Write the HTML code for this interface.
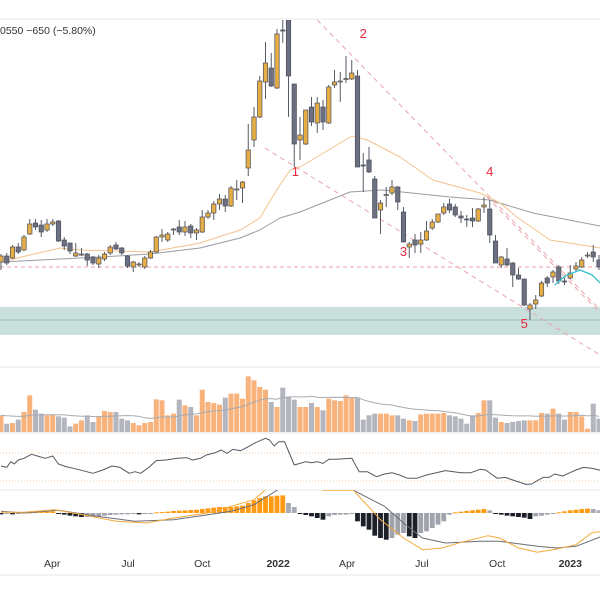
<!DOCTYPE html>
<html><head><meta charset="utf-8">
<style>
html,body{margin:0;padding:0;background:#fff;}
#wrap{position:relative;width:600px;height:600px;overflow:hidden;font-family:"Liberation Sans",sans-serif;}
svg{position:absolute;left:0;top:0;}
</style></head>
<body>
<div id="wrap">
<svg id="chart" width="600" height="600"></svg>
</div>
<script>
// ---- data ----
const opens  = [68,74,72,83,80,96,107,105,100,106,109,90,87,74,75,76,73,66,71,77,85,82,74,63,65,63,72,78,93,90,100,103,98,104,97,98,113,117,126,131,124,140,142,162,190,213,248,262,242,300,310,246,190,186,223,207,223,207,245,248,251,251,254,165,170,151,120,135,137,143,118,83,90,86,90,102,108,117,126,123,114,111,112,109,123,121,89,65,71,67,55,51,21,26,34,52,53,63,49,52,61,63,74.5,78,70];
const highs  = [76,77,85,87,95,111,111,110,111,111,110,93,87,87,82,77,74,75,78,85,88,83,75,69,68,74,80,94,101,98,102,110,109,106,102,120,120,129,136,135,144,150,149,206,223,254,288,277,301,310,315,246,213,220,233,233,230,245,260,258,274,270,260,177,183,154,130,143,150,144,123,88,96,98,109,111,116,127,131,126,119,115,122,122,133,130,95,74,82,68,62,51,27,35,49,54,60,65,52,65,68,73,78,85,75];
const lows   = [60,65,71,76,79,95,100,93,98,104,88,80,76,73,74,64,65,62,69,75,80,75,62,58,63,61,71,77,88,88,95,95,94,92,90,97,111,110,120,118,123,130,127,154,183,212,231,243,241,287,213,163,170,185,204,197,200,206,242,228,247,250,163,138,157,112,96,123,135,120,88,72,77,77,89,100,107,115,117,113,107,103,103,108,117,87,67,62,64,43,50,24,10,21,33,43,47,46,45,51,58,62,72,68,60];
const closes = [74,67,83,78,93,106,103,98,106,108,89,84,79,77,76,70,67,72,76,83,81,77,64,68,66,72,78,93,95,96,101,98,103,97,100,113,117,126,131,124,142,141,148,180,213,249,267,244,296,299.5,254,186,195,220,208,227,208,243,248,249,251.5,257,163,164.5,158,112,127,135.5,143,128,88,86,85,90,99,108,116,123,120,115,112,110.5,109,121,125,95,67,73,65,55,51,25,25,30,47,47,58,49,48.5,57,64,70,75,73,63];
const volumes = [50,25,27,37,60,110,67,55,50,52,47,43,17,25,35,50,30,47,63,60,60,40,35,27,20,27,30,98,95,50,55,97,80,75,50,127,90,87,82,103,115,115,100,167,155,135,127,90,75,133,105,97,75,75,87,75,65,100,95,93,110,103,103,37,50,55,55,55,50,50,40,35,33,53,55,55,55,57,50,47,40,25,50,57,95,95,43,30,27,30,33,35,35,35,57,55,70,55,37,60,60,47,10,85,40];
const histValues = [-4,-3,-4,-3,2,2,3,3,4,5,-3,-5,-8,-10,-12,-12,-12,-10,-8,-6,-5,-4,-4,-3,-4,-2,-1,2,3,4,6,7,8,9,10,12,14,16,18,18,18,20,22,30,38,45,50,50,52,53,30,18,-3,-6,-10,-15,-20,-10,-6,-5,-5,-3,-25,-40,-50,-68,-75,-80,-75,-65,-60,-70,-75,-60,-55,-45,-35,-25,-5,2,4,6,8,10,12,8,-3,-5,-8,-10,-12,-14,-18,-10,-8,-5,-3,2,5,8,10,12,13,12,8];
const maFastWeeks = [0,5,10.3,13.7,26,34.6,41.6,45,48.5,50.3,52,61,63.7,69.4,75.1,83.3,86.8,89.7,95.5,104.2];
const maFastValues = [68,75,82,80,78,87,100,112,145,160,163,194,190,173,150,137,127,113,90,82];
const maSlowWeeks = [0,17.2,25.9,34.6,41.6,45,48.5,52,60.7,66.4,78.1,85,92.5,104.2];
const maSlowValues = [68,73,76,82,92,100,112,118,138,140,133,130,117,104];
const rsiWeeks = [0,1,1.7,2.3,3,4,5.3,6.7,7.7,9,10,11.3,13.3,16,17.7,19.3,20.7,22.3,23.3,24.3,25.7,27,28.7,30.7,32.3,33.3,34.7,35.7,37.3,38.3,39.3,40.3,41.7,43,44.3,46,46.7,47.5,48.3,49.3,51,52,53,54,55,56,57,58.3,61,62.3,63.7,65.3,66.7,68,69.3,70.7,72.3,74,77.3,80,81.7,83.3,84.3,86.3,87.7,89,91.3,92.3,93.3,94.3,95.3,96.3,97.7,98.7,100,101.3,102.7,104.5];
const rsiValues = [51.4,49.5,57.6,54.3,60,62.4,68.1,64.8,62.4,65.7,54.3,50.5,46.7,41,45.7,51.4,49.5,41,43.3,41,49.5,59.1,60,62.4,63.3,60,62.4,67.1,70.5,74.3,69.5,75.2,73.3,79,84.8,91,88.6,80,86.2,86.2,52.9,55.2,57.6,56.2,57.6,55.2,61,61,62.4,43.3,43.3,36.2,40,41.9,38.6,33.8,33.8,38.6,44.8,41.9,41.9,46.7,45.7,33.8,35.2,31.4,25.2,25.7,30.5,35.2,35.2,40,37.1,41,45.7,49.5,48.1,44.8];
const macdWeeks = [0,4,10,16.7,23.3,30,36,40,44,48,50.7,58.7,61.3,66.7,70,73.3,77.3,83.3,86.7,93.3,96.7,100,104.5];
const macdValues = [5,0,8,-10,-25,-20,-5,5,25,68,110,110,68,20,-30,-75,-90,-85,-85,-100,-105,-100,-70];
const signalWeeks = [0,4,9.3,13.3,20,25.3,30,36,40,44,46,48,52,56,61.3,63.3,66,70,73.3,76.7,80,84.7,86.7,90,93.3,96.7,100,102.7,104.5];
const signalValues = [2,2,10,-2,-25,-30,-15,0,20,40,70,110,150,68,68,30,-20,-75,-110,-105,-88,-68,-75,-105,-118,-108,-95,-60,-55];
const arcWeeks = [96.3,98.1,100.7,102.8,104.2];
const arcPrices = [45,54,60,55,47];
const monthLabels = ["Apr","Jul","Oct","2022","Apr","Jul","Oct","2023"];
const monthWeeks = [8.9,22.1,35,48.2,60.2,73.2,86.3,99];
const waveLabels = ["1","2","3","4","5"];
const waveWeeks = [51.2,63,70,85,91];
const wavePrices = [154,292,74,154,2];

// ---- scales ----
const xC = i => 1 + i*5.75;
const yP = p => 330 - p;
const yV = v => 432 - v/3;
const yR = r => 467 - (r-50)*0.7;
const yM = m => 513 - m/3;

const svg = document.getElementById('chart');
const NS = 'http://www.w3.org/2000/svg';
function mk(tag, attrs, parent){
  const e = document.createElementNS(NS, tag);
  for (const k in attrs) e.setAttribute(k, attrs[k]);
  (parent||svg).appendChild(e);
  return e;
}
const defs = mk('defs',{});
const cp = mk('clipPath',{id:'macdclip'},defs);
mk('rect',{x:0,y:490,width:600,height:85},cp);
const cp2 = mk('clipPath',{id:'priceclip'},defs);
mk('rect',{x:0,y:20,width:600,height:345},cp2);

[19,367,433,490,575].forEach(y=>{
  const l = mk('line',{x1:0,x2:600,y1:y,y2:y,stroke:'#e6e7ea','stroke-width':1});
  
  
});

const zone = mk('rect',{x:0,y:yP(23),width:600,height:yP(-5)-yP(23),fill:'#c9dfdb'});


const zl = mk('line',{x1:0,x2:600,y1:yP(10),y2:yP(10),stroke:'#9fbfba','stroke-width':1});



const hl = mk('line',{x1:0,x2:600,y1:yP(63),y2:yP(63),stroke:'#e8a0a8','stroke-width':1,'stroke-dasharray':'4,3'});



const trendLines = [[55,310,104.2,20],[45.9,182,104.2,-25],[84.5,133,104.2,17]];
const gPrice = mk('g',{'clip-path':'url(#priceclip)'});
trendLines.forEach(t=>{
  const l = mk('line',{x1:xC(t[0]),y1:yP(t[1]),x2:xC(t[2]),y2:yP(t[3]),stroke:'#eba3ac','stroke-width':1,'stroke-dasharray':'5,4'},gPrice);
  
  
});

function sma(arr,n){
  return arr.map((_,i)=>{let s=0;for(let k=i-n+1;k<=i;k++){s+=arr[Math.max(0,k)];}return s/n;});
}
function poly(xs,ys,stroke,w,parent,name){
  const d = xs.map((x,i)=>(i?'L':'M')+x.toFixed(1)+','+ys[i].toFixed(1)).join('');
  const p = mk('path',{d:d,fill:'none',stroke:stroke,'stroke-width':w,'stroke-linejoin':'round'},parent);
  
  
  return p;
}
const idx = closes.map((_,i)=>i);
poly(maSlowWeeks.map(xC), maSlowValues.map(yP), '#9a9ca3', 1, gPrice, 'ma-slow-line');
poly(maFastWeeks.map(xC), maFastValues.map(yP), '#f5c28c', 1, gPrice, 'ma-fast-line');

for (let i=0;i<closes.length;i++){
  const up = closes[i] >= opens[i];
  const g = mk('g',{},gPrice);
  
  
  const x = xC(i);
  mk('line',{x1:x,x2:x,y1:yP(highs[i]),y2:yP(lows[i]),stroke:'#555a66','stroke-width':1},g);
  const top = yP(Math.max(opens[i],closes[i])), bot = yP(Math.min(opens[i],closes[i]));
  mk('rect',{x:x-2.2,y:top,width:4.4,height:Math.max(1,bot-top),fill:up?'#e6ad45':'#6c7080',stroke:'#4b4f5c','stroke-width':0.7},g);
}

poly(arcWeeks.map(xC), arcPrices.map(yP), '#35c2cf', 1.3, gPrice, 'arc-pattern');

waveLabels.forEach((t,i)=>{
  const tx = mk('text',{x:xC(waveWeeks[i]),y:yP(wavePrices[i]),fill:'#e8283f','font-size':13,'text-anchor':'middle','font-family':'Liberation Sans, sans-serif'});
  tx.textContent = t;
  
  
});

const hdr = mk('text',{x:0,y:34,fill:'#333','font-size':10.5,'font-family':'Liberation Sans, sans-serif'});
hdr.textContent = '0550  −650 (−5.80%)';



for (let i=0;i<volumes.length;i++){
  const up = closes[i] >= opens[i];
  const r = mk('rect',{x:xC(i)-2.5,y:yV(volumes[i]),width:5,height:432-yV(volumes[i]),fill:up?'#f8b27c':'#b3b6be'});
  
  
}
poly(idx.map(xC), sma(volumes,20).map(yV), '#a8aab0', 1, svg, 'volume-ma-line');

[70,30].forEach(v=>{
  const l = mk('line',{x1:0,x2:600,y1:yR(v),y2:yR(v),stroke:'#f5c79a','stroke-width':1,'stroke-dasharray':'1,2'});
  
  
});
poly(rsiWeeks.map(xC), rsiValues.map(yR), '#555860', 1, svg, 'rsi-line');

const gM = mk('g',{'clip-path':'url(#macdclip)'});
for (let i=0;i<histValues.length;i++){
  const h = histValues[i], prev = i?histValues[i-1]:0;
  let col;
  if (h>=0) col = h>=prev ? '#ff9a12' : '#a7aab2';
  else col = h<prev ? '#1d2029' : '#a0a3ab';
  const y0 = yM(0), y1 = yM(h);
  const r = mk('rect',{x:xC(i)-2.4,y:Math.min(y0,y1),width:4.8,height:Math.max(1,Math.abs(y1-y0)),fill:col},gM);
  
  
}
poly(macdWeeks.map(xC), macdValues.map(yM), '#6b6e78', 1, gM, 'macd-line');
poly(signalWeeks.map(xC), signalValues.map(yM), '#f3a93c', 1, gM, 'signal-line');

monthLabels.forEach((t,i)=>{
  const bold = /^\d{4}$/.test(t);
  const tx = mk('text',{x:xC(monthWeeks[i]),y:567,fill:'#333','font-size':10.5,'font-weight':bold?'bold':'normal','text-anchor':'middle','font-family':'Liberation Sans, sans-serif'});
  tx.textContent = t;
  
  
});
</script>
</body></html>
